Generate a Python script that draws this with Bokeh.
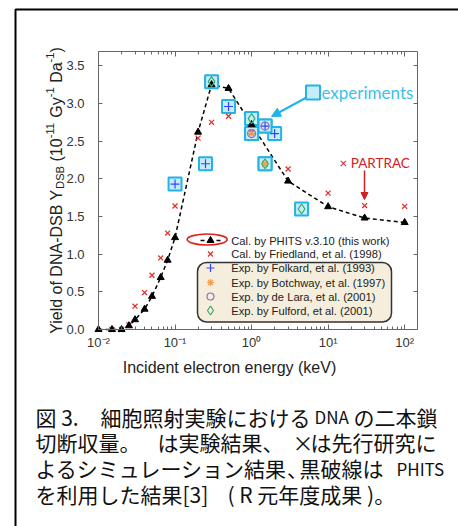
import math
from bokeh.plotting import figure
from bokeh.models import (Range1d, LogAxis, LinearAxis, FixedTicker,
                          PrintfTickFormatter, CustomJSTickFormatter, Label,
                          Arrow, NormalHead, BoxAnnotation)
from bokeh.embed import file_html
from bokeh.resources import INLINE

# ---------------- data ----------------
phits_e = [0.01, 0.015, 0.02, 0.025, 0.03, 0.04, 0.05, 0.065, 0.08, 0.1, 0.2, 0.3, 0.5, 1.0, 3.0, 10.0, 30.0, 100.0]
phits_y = [0.0, 0.0, 0.0, 0.05, 0.13, 0.27, 0.44, 0.69, 0.92, 1.22, 2.62, 3.25, 3.20, 2.72, 1.97, 1.63, 1.48, 1.42]
fried_e = [0.015, 0.02, 0.025, 0.03, 0.04, 0.05, 0.065, 0.08, 0.1, 0.2, 0.3, 0.5, 1.0, 3.0, 10.0, 30.0, 100.0]
fried_y = [0.0, 0.0, 0.06, 0.31, 0.49, 0.72, 0.95, 1.28, 1.64, 2.54, 2.75, 2.83, 2.62, 2.13, 1.81, 1.645, 1.635]
folkard_e = [0.1, 0.25, 0.5, 1.5, 2.0]
folkard_y = [1.93, 2.20, 2.96, 2.70, 2.60]
botchway_e = [1.0, 1.5]
botchway_y = [2.60, 2.20]
delara_e = [1.0, 1.5]
delara_y = [2.60, 2.70]
fulford_e = [0.3, 1.0, 1.5, 4.5]
fulford_y = [3.29, 2.80, 2.20, 1.60]

y_ticks = [0.0, 0.5, 1.0, 1.5, 2.0, 2.5, 3.0, 3.5]
x_ticks = [0.01, 0.1, 1.0, 10.0, 100.0]
x_tick_labels = ["10⁻²", "10⁻¹", "10⁰", "10¹", "10²"]

legend_labels = ["Cal. by PHITS v.3.10 (this work)", "Cal. by Friedland, et al. (1998)",
                 "Exp. by Folkard, et al. (1993)", "Exp. by Botchway, et al. (1997)",
                 "Exp. by de Lara, et al. (2001)", "Exp. by Fulford, et al. (2001)"]

x_title = "Incident electron energy (keV)"
caption = [
    [("図 3.", 35), ("細胞照射実験における", 100), ("DNA", 314), ("の二本鎖", 353)],
    [("切断収量。", 35), ("は実験結果、", 157), ("×", 292), ("は先行研究に", 310)],
    [("よるシミュレーション結果", 35), ("､", 287), ("黒破線は", 299), ("PHITS", 396)],
    [("を利用した結果[3]", 35), ("( R 元年度成果 )。", 227)],
]

# ---------------- geometry (page pixels) ----------------
W, H = 458, 526
PX_L, PX_T, PX_W, PX_H = 98, 51, 319, 278   # chart box
XLOG0, XLOG1 = -2.0, 2.168
YMAX = 3.69


def dx(px):
    return 10 ** (XLOG0 + (px - PX_L) / PX_W * (XLOG1 - XLOG0))


def dy(py):
    return YMAX * (PX_T + PX_H - py) / PX_H


XMIN, XMAX = 10 ** XLOG0, 10 ** XLOG1

# the plot frame fills the whole canvas; the chart axes are pinned at the chart box edges
p = figure(width=W, height=H, x_axis_type="log",
           x_range=Range1d(dx(0), dx(W)), y_range=Range1d(dy(H), dy(0)),
           x_axis_location=None, y_axis_location=None,
           output_backend="svg", toolbar_location=None,
           min_border_left=0, min_border_right=0, min_border_top=0, min_border_bottom=0)
p.title.visible = False
p.xgrid.visible = False
p.ygrid.visible = False
p.outline_line_color = None
p.background_fill_color = "white"
p.border_fill_color = "white"

AX = "#666666"
x_minor = [k * 10.0 ** e for e in range(-2, 2) for k in range(2, 10)]


def style_axis(ax, labels=True):
    ax.axis_line_color = None
    ax.major_tick_line_color = AX
    ax.minor_tick_line_color = AX
    ax.major_tick_out = 0
    ax.minor_tick_out = 0
    ax.major_label_text_font = "Liberation Sans"
    ax.major_label_text_font_size = "13px"
    ax.major_label_text_color = "#333333"
    if not labels:
        ax.formatter = CustomJSTickFormatter(code="return ''")


sup_js = """
const i = Math.round(Math.log10(tick)) + 2;
return (i >= 0 && i < labels.length) ? labels[i] : "";
"""

xa = LogAxis(ticker=FixedTicker(ticks=x_ticks, minor_ticks=x_minor), fixed_location=0.0)
style_axis(xa)
xa.formatter = CustomJSTickFormatter(code=sup_js, args=dict(labels=x_tick_labels))
xa.major_tick_in = 5
xa.minor_tick_in = 3
xa.major_label_standoff = 5
xa.axis_label = x_title
xa.axis_label_text_font = "Liberation Sans"
xa.axis_label_text_font_size = "16px"
xa.axis_label_text_font_style = "normal"
xa.axis_label_text_color = "#222222"
xa.axis_label_standoff = 6
p.add_layout(xa, "below")

xt = LogAxis(ticker=FixedTicker(ticks=x_ticks, minor_ticks=x_minor), fixed_location=YMAX)
style_axis(xt, labels=False)
xt.major_tick_in = 5
xt.minor_tick_in = 3
p.add_layout(xt, "above")

ya = LinearAxis(ticker=FixedTicker(ticks=y_ticks), fixed_location=XMIN)
style_axis(ya)
ya.formatter = PrintfTickFormatter(format="%.1f")
ya.major_tick_in = 4
ya.minor_tick_line_color = None
ya.major_label_standoff = 14
p.add_layout(ya, "left")

yr = LinearAxis(ticker=FixedTicker(ticks=y_ticks), fixed_location=XMAX)
style_axis(yr, labels=False)
yr.major_tick_in = 4
yr.minor_tick_line_color = None
p.add_layout(yr, "right")

# chart box outline
p.add_layout(BoxAnnotation(left=XMIN, right=XMAX, bottom=0.0, top=YMAX, fill_color=None,
                           line_color=AX, line_width=1, line_alpha=1.0))

# ---------------- data marks ----------------
C_RED, C_BLUE, C_ORANGE, C_PURPLE, C_GREEN = "#e03030", "#3344ff", "#f0a050", "#9070b0", "#33aa66"
C_SQ_FILL, C_SQ_LINE = "#c6ecfa", "#22b4e6"

p.line(phits_e, phits_y, line_color="black", line_width=1.5, line_dash="4 3")

sq_e = folkard_e + botchway_e + delara_e + fulford_e
sq_y = folkard_y + botchway_y + delara_y + fulford_y
p.scatter(sq_e, sq_y, marker="square", size=13, fill_color=C_SQ_FILL,
          line_color=C_SQ_LINE, line_width=2)

p.scatter(fried_e, fried_y, marker="x", size=7, line_color=C_RED, line_width=1.3)
p.scatter(phits_e, phits_y, marker="triangle", size=7, fill_color="black", line_color="black")
p.scatter(folkard_e, folkard_y, marker="cross", size=9, line_color=C_BLUE, line_width=1.2)
p.scatter(botchway_e, botchway_y, marker="asterisk", size=8, line_color=C_ORANGE, line_width=1.2)
p.scatter(delara_e, delara_y, marker="circle", size=8, fill_color=None, line_color=C_PURPLE, line_width=1.2)
p.scatter(fulford_e, fulford_y, marker="diamond", size=10, fill_color=None, line_color=C_GREEN, line_width=1.2)

# ---------------- call-outs ----------------
p.scatter([dx(312.5)], [dy(92)], marker="square", size=14, fill_color=C_SQ_FILL,
          line_color=C_SQ_LINE, line_width=2)
p.add_layout(Label(x=dx(321), y=dy(92), text="experiments", text_font="Lato",
                   text_font_size="17px", text_color="#3cbfec", text_baseline="middle",
                   text_align="left"))
p.add_layout(Arrow(x_start=dx(306), y_start=dy(97), x_end=dx(271), y_end=dy(116),
                   line_color=C_SQ_LINE, line_width=2,
                   end=NormalHead(size=9, fill_color=C_SQ_LINE, line_color=C_SQ_LINE)))

p.add_layout(Label(x=dx(339), y=dy(162), text="× PARTRAC", text_font="Lato",
                   text_font_size="13.5px", text_color="#d42020", text_baseline="middle",
                   text_align="left"))
p.add_layout(Arrow(x_start=dx(364), y_start=dy(170), x_end=dx(364), y_end=dy(199),
                   line_color="#d42020", line_width=1.5,
                   end=NormalHead(size=7, fill_color="#d42020", line_color="#d42020")))

# ---------------- legend (drawn by hand) ----------------
box = BoxAnnotation(left=dx(197), right=dx(391), top=dy(262), bottom=dy(321.5),
                    fill_color="#f5eedc", fill_alpha=1.0, line_color="#333333",
                    line_width=1.5, line_alpha=1.0, level="underlay")
if "border_radius" in BoxAnnotation.properties():
    box.border_radius = 9
p.add_layout(box)

LEG_MX, LEG_TX = 210, 230.7
leg_rows = [240, 253.5, 267.5, 282, 296, 310]

p.ellipse(x=[dx(206.7)], y=[dy(239)], width=40, height=11, width_units="screen",
          height_units="screen", fill_color=None, line_color="#e02020", line_width=1.6)
p.line([dx(200), dx(221)], [dy(leg_rows[0])] * 2, line_color="black", line_width=1.5,
       line_dash="4 4")
p.scatter([dx(LEG_MX)], [dy(leg_rows[0])], marker="triangle", size=7, fill_color="black",
          line_color="black")
p.scatter([dx(LEG_MX)], [dy(leg_rows[1])], marker="x", size=7, line_color=C_RED, line_width=1.3)
p.scatter([dx(LEG_MX)], [dy(leg_rows[2])], marker="cross", size=8, line_color=C_BLUE, line_width=1.2)
p.scatter([dx(LEG_MX)], [dy(leg_rows[3])], marker="asterisk", size=7, line_color=C_ORANGE, line_width=1.2)
p.scatter([dx(LEG_MX)], [dy(leg_rows[4])], marker="circle", size=7, fill_color=None,
          line_color=C_PURPLE, line_width=1.2)
p.scatter([dx(LEG_MX)], [dy(leg_rows[5])], marker="diamond", size=9, fill_color=None,
          line_color=C_GREEN, line_width=1.2)
for lab, ry in zip(legend_labels, leg_rows):
    p.add_layout(Label(x=dx(LEG_TX), y=dy(ry), text=lab, text_font="Liberation Sans",
                       text_font_size="11.2px", text_color="#222222",
                       text_baseline="middle", text_align="left"))

# ---------------- y-axis title (rich text, built from pieces) ----------------
ARIAL = {' ': 278, '(': 333, ')': 333, '-': 333, '.': 278, '0': 556, '1': 556,
         'A': 667, 'B': 667, 'D': 722, 'G': 778, 'N': 722, 'S': 667, 'Y': 667,
         'a': 556, 'd': 556, 'e': 556, 'f': 278, 'i': 222, 'l': 222, 'o': 556, 'y': 500}


def tw(s, size):
    return sum(ARIAL.get(c, 556) for c in s) / 1000.0 * size


BIG, SMALL = 16.0, 11.2
ytitle = [("Yield of DNA-DSB Y", BIG, 0), ("DSB", SMALL, 3.5), (" (10", BIG, 0),
          ("-11", SMALL, -6.5), (" Gy", BIG, 0), ("-1", SMALL, -6.5), (" Da", BIG, 0),
          ("-1", SMALL, -6.5), (")", BIG, 0)]
total = sum(tw(t, s) for t, s, _ in ytitle)
ycur = PX_T + PX_H / 2.0 + total / 2.0
base_x = 56.0
for t, s, sh in ytitle:
    lead = len(t) - len(t.lstrip(" "))
    ycur -= tw(" " * lead, s)          # leading blanks are advanced, not drawn
    body = t.strip(" ")
    p.add_layout(Label(x=dx(base_x + sh), y=dy(ycur), angle=math.pi / 2, text=body,
                       text_font="Liberation Sans", text_font_size=f"{s}px",
                       text_color="#222222", text_baseline="alphabetic", text_align="left"))
    ycur -= tw(body, s)

# ---------------- caption ----------------
line_y = [416, 441, 467.5, 493]
for row, yy in zip(caption, line_y):
    for t, xx in row:
        latin = t in ("DNA", "PHITS")
        p.add_layout(Label(x=dx(xx), y=dy(yy), text=t, text_font="Noto Sans CJK JP",
                           text_font_size="17px" if latin else "21px",
                           text_color="#111111", text_baseline="middle", text_align="left"))

# ---------------- outer border ----------------
p.line([dx(15), dx(15), dx(W + 40)], [dy(H + 40), dy(9), dy(9)], line_color="black",
       line_width=2)

open("out.html", "w").write(file_html(p, INLINE))
